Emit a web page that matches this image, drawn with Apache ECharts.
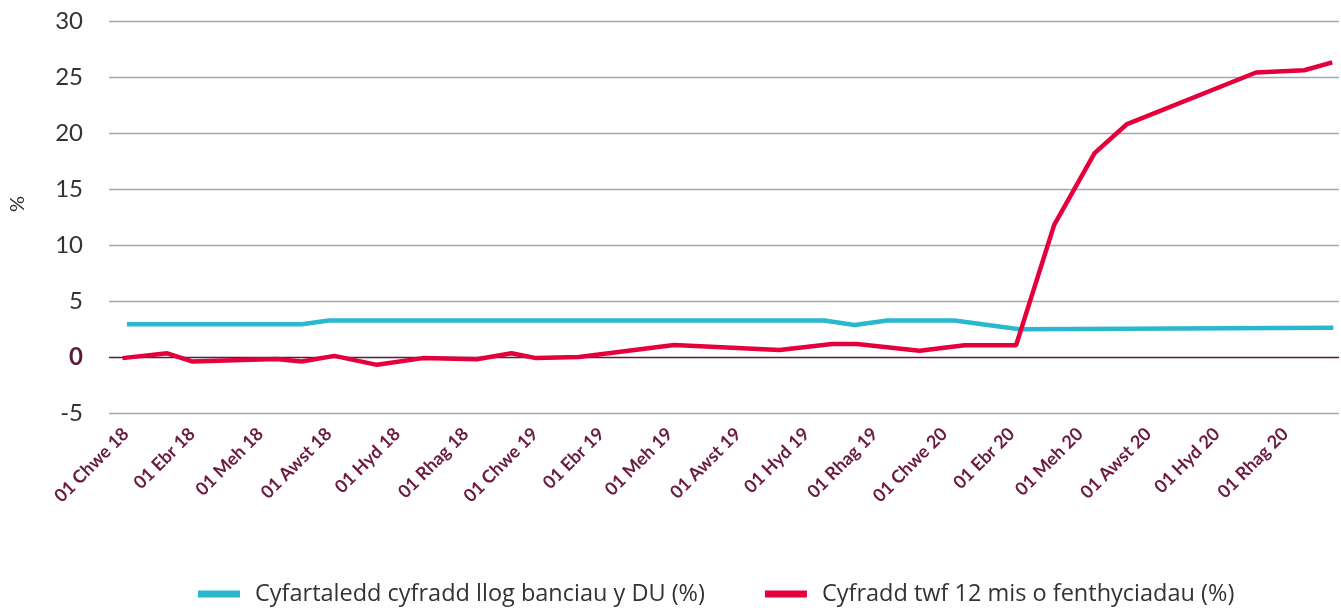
<!DOCTYPE html>
<html lang="cy">
<head>
<meta charset="UTF-8">
<title>Cyfradd llog a benthyca</title>
<style>
  html, body { margin: 0; padding: 0; background: #fff; }
  #chart { width: 1341px; height: 612px; }
</style>
</head>
<body>
<div id="chart"></div>
<script src="https://cdn.jsdelivr.net/npm/echarts@6/dist/echarts.min.js"></script>
<script>
// x axis: one label every two months
var tickDates = ['2018-02-01', '2018-04-01', '2018-06-01', '2018-08-01', '2018-10-01', '2018-12-01',
                 '2019-02-01', '2019-04-01', '2019-06-01', '2019-08-01', '2019-10-01', '2019-12-01',
                 '2020-02-01', '2020-04-01', '2020-06-01', '2020-08-01', '2020-10-01', '2020-12-01'];
var tickLabels = ['01 Chwe 18', '01 Ebr 18', '01 Meh 18', '01 Awst 18', '01 Hyd 18', '01 Rhag 18',
                  '01 Chwe 19', '01 Ebr 19', '01 Meh 19', '01 Awst 19', '01 Hyd 19', '01 Rhag 19',
                  '01 Chwe 20', '01 Ebr 20', '01 Meh 20', '01 Awst 20', '01 Hyd 20', '01 Rhag 20'];

var seriesNames = ['Cyfartaledd cyfradd llog banciau y DU (%)', 'Cyfradd twf 12 mis o fenthyciadau (%)'];

// average UK bank interest rate (%)
var rateDates = ['2018-02-02', '2018-07-08', '2018-08-01', '2019-10-17', '2019-11-13',
                 '2019-12-12', '2020-02-10', '2020-04-08', '2021-01-13'];
var rateValues = [2.92, 2.92, 3.25, 3.25, 2.86, 3.25, 3.25, 2.48, 2.62];

// 12 month lending growth rate (%)
var growthDates = ['2018-01-29', '2018-03-10', '2018-04-01', '2018-06-15', '2018-07-08',
                   '2018-08-06', '2018-09-13', '2018-10-24', '2018-12-11', '2019-01-11',
                   '2019-02-02', '2019-03-12', '2019-06-05', '2019-09-07', '2019-10-24',
                   '2019-11-15', '2020-01-10', '2020-02-19', '2020-04-05', '2020-05-09',
                   '2020-06-14', '2020-07-13', '2020-11-05', '2020-12-18', '2021-01-12'];
var growthValues = [-0.1, 0.33, -0.4, -0.18, -0.4,
                    0.1, -0.7, -0.1, -0.2, 0.33,
                    -0.1, 0, 1.07, 0.62, 1.16,
                    1.16, 0.56, 1.05, 1.05, 11.8,
                    18.2, 20.8, 25.4, 25.6, 26.3];

var yMin = -5, yMax = 30, yStep = 5;

function ts(s) { return Date.parse(s); }
function pairs(dates, values) {
    return dates.map(function (d, i) { return [ts(d), values[i]]; });
}

var tickTimes = tickDates.map(ts);
var gridColors = [];
for (var v = yMin; v <= yMax; v += yStep) {
    gridColors.push(v === 0 ? '#5e1a3d' : '#a3a6b2');
}

var chart = echarts.init(document.getElementById('chart'));
chart.setOption({
    animation: false,
    textStyle: { fontFamily: 'Lato' },
    grid: { left: 109, right: 2, top: 21, bottom: 199, containLabel: false, outerBoundsMode: 'none' },
    legend: {
        bottom: 1,
        left: 193,
        itemWidth: 42,
        itemHeight: 7,
        itemGap: 60,
        icon: 'rect',
        textStyle: { fontSize: 23.5, color: '#333', fontFamily: 'Open Sans', padding: [0, 0, 0, 10] },
        data: seriesNames
    },
    xAxis: {
        type: 'value',
        min: ts('2018-01-17'),
        max: ts('2021-01-18'),
        axisLine: { show: false },
        axisTick: { show: false },
        splitLine: { show: false },
        axisLabel: {
            customValues: tickTimes,
            rotate: 45,
            margin: 18,
            fontSize: 18,
            fontWeight: 'bold',
            color: '#6b1a40',
            formatter: function (val) {
                var i = tickTimes.indexOf(val);
                return i >= 0 ? tickLabels[i] : '';
            }
        }
    },
    yAxis: {
        type: 'value',
        min: yMin,
        max: yMax,
        interval: yStep,
        name: '%',
        nameLocation: 'middle',
        nameRotate: 90,
        nameGap: 81,
        nameTextStyle: { fontSize: 20, color: '#333', padding: [0, 0, 0, 26] },
        axisLine: { show: false },
        axisTick: { show: false },
        splitLine: { lineStyle: { color: gridColors, width: 1.3 } },
        axisLabel: {
            margin: 26,
            fontSize: 24,
            color: '#333',
            formatter: function (val) {
                return val === 0 ? '{z|0}' : String(val);
            },
            rich: {
                z: { fontSize: 24, fontWeight: 'bold', color: '#5e1a3d' }
            }
        }
    },
    series: [
        {
            name: seriesNames[0],
            type: 'line',
            data: pairs(rateDates, rateValues),
            showSymbol: false,
            color: '#2bb8cf',
            lineStyle: { width: 4.5, color: '#2bb8cf' }
        },
        {
            name: seriesNames[1],
            type: 'line',
            data: pairs(growthDates, growthValues),
            showSymbol: false,
            color: '#e4003b',
            lineStyle: { width: 4.5, color: '#e4003b' }
        }
    ]
});
</script>
</body>
</html>
